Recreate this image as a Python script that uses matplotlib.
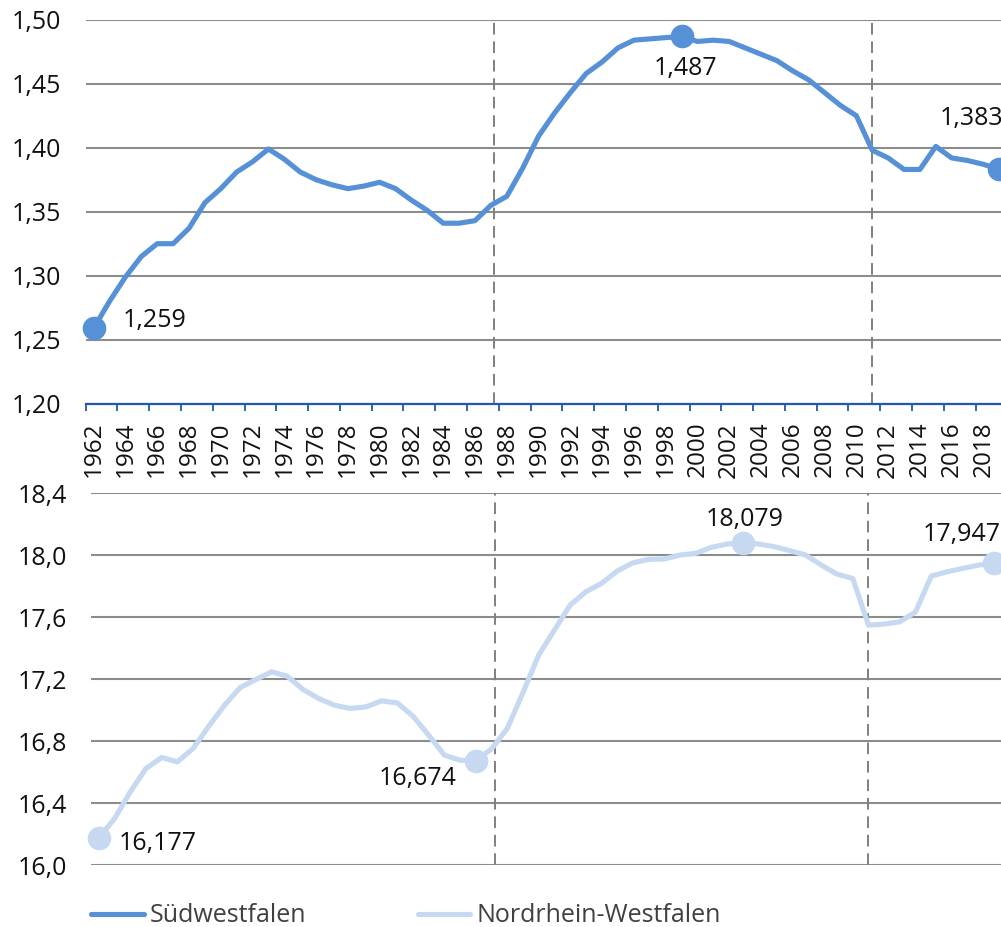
import numpy as np
import matplotlib
matplotlib.use('Agg')
import matplotlib.pyplot as plt

plt.rcParams['font.family'] = ['Open Sans', 'DejaVu Sans']

# -----------------------------------------------------------------------
# Data (population in millions)
# -----------------------------------------------------------------------
years = np.arange(1962, 2020)

swf = [1.259, 1.280, 1.299, 1.315, 1.325, 1.325, 1.337, 1.357, 1.368, 1.381,
       1.389, 1.399, 1.391, 1.381, 1.375, 1.371, 1.368, 1.370, 1.373, 1.368,
       1.359, 1.351, 1.341, 1.341, 1.343, 1.355, 1.362, 1.384, 1.409, 1.427,
       1.443, 1.458, 1.467, 1.478, 1.484, 1.485, 1.486, 1.487, 1.483, 1.484,
       1.483, 1.478, 1.473, 1.468, 1.460, 1.453, 1.443, 1.433, 1.425, 1.398,
       1.392, 1.383, 1.383, 1.401, 1.392, 1.390, 1.387, 1.383]

nrw = [16.177, 16.301, 16.473, 16.624, 16.695, 16.667, 16.753, 16.897, 17.032, 17.146,
       17.198, 17.247, 17.219, 17.133, 17.075, 17.032, 17.011, 17.021, 17.060, 17.047,
       16.961, 16.839, 16.710, 16.677, 16.674, 16.750, 16.882, 17.112, 17.355, 17.516,
       17.677, 17.763, 17.817, 17.897, 17.950, 17.972, 17.975, 18.000, 18.011, 18.050,
       18.071, 18.079, 18.071, 18.054, 18.028, 18.000, 17.935, 17.877, 17.849, 17.548,
       17.555, 17.570, 17.634, 17.865, 17.892, 17.914, 17.935, 17.947]

# highlighted points and label offsets (pixels)
swf_marks = [1962, 1999, 2019]
swf_offsets = [(29, 1, 'left'), (4, -39, 'center'), (-60, 44, 'left')]
nrw_marks = [1962, 1986, 2003, 2019]
nrw_offsets = [(20, -12, 'left'), (-19, -24, 'right'), (2, 17, 'center'), (-71, 22, 'left')]

census_lines = [1987.2, 2011.0]

swf_ticks = [1.20, 1.25, 1.30, 1.35, 1.40, 1.45, 1.50]
nrw_ticks = [16.0, 16.4, 16.8, 17.2, 17.6, 18.0, 18.4]

C_SWF = '#5690D6'
C_NRW = '#C6D9F1'
C_GRID = '#8C8C8C'
C_AXIS = '#2159A8'


def de(v, nd):
    return f'{v:.{nd}f}'.replace('.', ',')


def draw_panel(ax, values, color, marks, offsets, ticks, nd_tick):
    ax.set_xlim(1961.5, 2019.5)
    ax.set_ylim(ticks[0], ticks[-1])
    ax.set_yticks(ticks)
    ax.set_yticklabels([de(t, nd_tick) for t in ticks])
    ax.tick_params(axis='y', length=0, pad=17.5, labelsize=18, labelcolor='#111111')
    for s in ['top', 'right', 'left']:
        ax.spines[s].set_visible(False)
    ax.yaxis.grid(True, color=C_GRID, lw=1.5)
    ax.set_axisbelow(True)

    for c in census_lines:
        ax.axvline(c, color='#808080', lw=1.4, ls=(0, (6, 3.5)), zorder=1, clip_on=False)

    line, = ax.plot(years, values, color=color, lw=3.7, solid_joinstyle='round',
                    solid_capstyle='round', zorder=3)
    vals = dict(zip(years, values))
    ax.plot(marks, [vals[m] for m in marks], 'o', color=color, ms=16,
            zorder=4, clip_on=False)
    for m, (dx, dy, ha) in zip(marks, offsets):
        ax.annotate(de(vals[m], 3), xy=(m, vals[m]), xytext=(dx, dy),
                    textcoords='offset pixels', ha=ha, va='baseline',
                    fontsize=18, color='#111111', annotation_clip=False)
    return line


fig = plt.figure(figsize=(10.01, 9.27), dpi=100)

# top panel: Südwestfalen
ax1 = fig.add_axes([85.7 / 1001, 1 - 403.7 / 927, 921.6 / 1001, 384 / 927])
l1 = draw_panel(ax1, swf, C_SWF, swf_marks, swf_offsets, swf_ticks, 2)
ax1.spines['bottom'].set_color(C_AXIS)
ax1.spines['bottom'].set_linewidth(1.6)
ax1.set_xticks(np.arange(1961.5, 2020, 2))
ax1.set_xticks(np.arange(1962, 2019, 2), minor=True)
ax1.set_xticklabels([])
ax1.set_xticklabels([str(y) for y in range(1962, 2019, 2)], minor=True, rotation=90)
ax1.tick_params(axis='x', which='major', length=5, width=1.3, color=C_AXIS)
ax1.tick_params(axis='x', which='minor', length=0, pad=13, labelsize=17.5,
                labelcolor='#111111')

# bottom panel: Nordrhein-Westfalen
ax2 = fig.add_axes([91 / 1001, 1 - 865.3 / 927, 911 / 1001, 372.3 / 927])
l2 = draw_panel(ax2, nrw, C_NRW, nrw_marks, nrw_offsets, nrw_ticks, 1)
ax2.spines['bottom'].set_visible(False)
ax2.set_xticks([])

fig.legend([l1, l2], ['Südwestfalen', 'Nordrhein-Westfalen'],
           loc='center left', bbox_to_anchor=(91 / 1001, 11 / 927),
           ncol=2, frameon=False, fontsize=18, labelcolor='#404040',
           handlelength=2.1, handletextpad=0.25, columnspacing=4.45,
           borderpad=0, borderaxespad=0)

fig.savefig('out.png', dpi=100)
